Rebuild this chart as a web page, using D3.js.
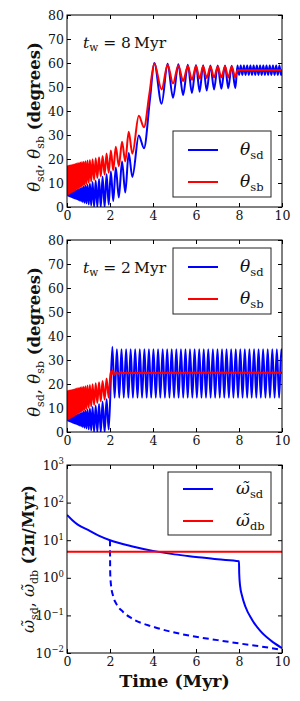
<!DOCTYPE html>
<html><head><meta charset="utf-8">
<script src="https://cdn.jsdelivr.net/npm/d3@7"></script>
<style>body{margin:0;background:#fff}svg{display:block}</style>
</head><body><svg id="c" width="300" height="701"></svg>
<script>
// ---------------- data ----------------
const X_TICKS = [0, 2, 4, 6, 8, 10];
const THETA_TICKS = [0, 10, 20, 30, 40, 50, 60, 70, 80];
const OMEGA_TICKS = [1e-2, 1e-1, 1, 10, 100, 1000];
const OMEGA_TICK_EXP = ["\u22122", "\u22121", "0", "1", "2", "3"];
const PANEL_NOTES = ["8", "2"];           // t_w in Myr
const THETA_LEGEND = ["sd", "sb"];
const OMEGA_LEGEND = ["sd", "db"];

// shared early evolution (t < 1.95 Myr), extrema of the fast oscillation
const earlySd = [[0,5.0],[0.015,5.1],[0.03,4.9],[0.044,5.2],[0.059,4.8],[0.074,5.3],[0.09,4.6],[0.106,5.5],[0.123,4.5],[0.14,5.6],[0.158,4.4],[0.176,5.8],[0.195,4.2],[0.214,6.0],[0.234,4.1],[0.254,6.1],[0.275,3.9],[0.297,6.3],[0.32,3.8],[0.343,6.5],[0.367,3.6],[0.392,6.8],[0.418,3.4],[0.445,7.0],[0.472,3.2],[0.5,7.3],[0.53,2.9],[0.56,7.5],[0.592,2.7],[0.625,7.8],[0.66,2.4],[0.697,8.1],[0.735,2.1],[0.775,8.5],[0.815,1.8],[0.86,8.9],[0.905,1.5],[0.955,9.3],[1.01,1.1],[1.065,9.8],[1.125,0.6],[1.19,10.4],[1.26,0.1],[1.335,11.0],[1.41,0],[1.49,11.7],[1.57,0],[1.655,12.6],[1.75,0],[1.84,13.6],[1.94,1.0]];
const earlySb = [[0,5.0],[0.015,17.0],[0.03,5.2],[0.044,17.1],[0.059,5.3],[0.074,17.2],[0.09,5.5],[0.106,17.3],[0.123,5.6],[0.14,17.3],[0.158,5.8],[0.176,17.4],[0.195,6.0],[0.214,17.5],[0.234,6.2],[0.254,17.6],[0.275,6.4],[0.297,17.7],[0.32,6.6],[0.343,17.8],[0.367,6.8],[0.392,18.0],[0.418,7.1],[0.445,18.1],[0.472,7.4],[0.5,18.2],[0.53,7.7],[0.56,18.4],[0.592,8.0],[0.625,18.5],[0.66,8.3],[0.697,18.7],[0.735,8.7],[0.775,18.9],[0.815,9.1],[0.86,19.1],[0.905,9.5],[0.955,19.4],[1.01,10.1],[1.065,19.6],[1.125,10.6],[1.19,19.9],[1.26,11.3],[1.335,20.3],[1.41,12.1],[1.49,20.7],[1.57,12.8],[1.655,21.3],[1.75,13.5],[1.84,22.3],[1.94,14.3]];

// t_w = 8 Myr continuation
const lateSd8 = [[2.04,14.8],[2.15,2.5],[2.27,16.5],[2.41,4.0],[2.56,19.0],[2.71,6.0],[2.87,22.5],[3.04,12.5],[3.34,29.8],[3.58,24.5],[3.86,45],[4.06,60],[4.40,43],[4.68,59.7],[4.93,45.5],[5.18,59.5],[5.40,46.7],[5.62,59.3],[5.81,47.5],[6.0,59.2],[6.17,48],[6.33,59.1],[6.5,48.5],[6.67,59],[6.84,49],[7.01,59],[7.18,49.3],[7.35,59],[7.5,49.5],[7.66,58.9],[7.83,49.5],[7.93,59],[8.005,55],[8.08,59],[8.155,55],[8.23,59],[8.305,55],[8.38,59],[8.455,55],[8.53,59],[8.605,55],[8.68,59],[8.755,55],[8.83,59],[8.905,55],[8.98,59],[9.055,55],[9.13,59],[9.205,55],[9.28,59],[9.355,55],[9.43,59],[9.505,55],[9.58,59],[9.655,55],[9.73,59],[9.805,55],[9.88,59],[9.955,55],[10,57]];
const lateSb8 = [[2.04,23.5],[2.15,15.3],[2.27,25.1],[2.41,17.0],[2.56,27.2],[2.71,19.0],[2.87,31.4],[3.04,22.2],[3.34,38.0],[3.58,33.2],[3.83,47],[4.06,59.8],[4.40,49.0],[4.68,59.3],[4.93,51.5],[5.18,59.0],[5.40,52.5],[5.62,58.8],[5.81,53.0],[6.0,58.7],[6.17,53.5],[6.33,58.6],[6.5,53.8],[6.67,58.5],[6.84,54],[7.01,58.5],[7.18,54],[7.35,58.5],[7.5,54],[7.66,58.5],[7.83,54],[7.93,57],[10,57]];

// t_w = 2 Myr continuation
const lateSd2 = [[2.11,35.5],[2.215,14.3],[2.32,34.5],[2.43,14.3],[2.535,34.5],[2.64,14.3],[2.75,34.5],[2.855,14.3],[2.96,34.5],[3.065,14.3],[3.17,34.5],[3.28,14.3],[3.385,34.5],[3.49,14.3],[3.6,34.5],[3.705,14.3],[3.81,34.5],[3.915,14.3],[4.02,34.5],[4.13,14.3],[4.235,34.5],[4.34,14.3],[4.45,34.5],[4.555,14.3],[4.66,34.5],[4.765,14.3],[4.87,34.5],[4.98,14.3],[5.085,34.5],[5.19,14.3],[5.3,34.5],[5.405,14.3],[5.51,34.5],[5.615,14.3],[5.72,34.5],[5.83,14.3],[5.935,34.5],[6.04,14.3],[6.15,34.5],[6.255,14.3],[6.36,34.5],[6.465,14.3],[6.57,34.5],[6.68,14.3],[6.785,34.5],[6.89,14.3],[7.0,34.5],[7.105,14.3],[7.21,34.5],[7.315,14.3],[7.42,34.5],[7.53,14.3],[7.635,34.5],[7.74,14.3],[7.85,34.5],[7.955,14.3],[8.06,34.5],[8.165,14.3],[8.27,34.5],[8.38,14.3],[8.485,34.5],[8.59,14.3],[8.7,34.5],[8.805,14.3],[8.91,34.5],[9.015,14.3],[9.12,34.5],[9.23,14.3],[9.335,34.5],[9.44,14.3],[9.55,34.5],[9.655,14.3],[9.76,34.5],[9.865,14.3],[9.97,34.5],[10,31]];
const lateSb2 = [[2.03,25.3],[2.08,24.0],[2.12,25.6],[2.2,23.9],[2.3,24.9],[2.4,24.3],[2.5,24.8],[2.6,24.6],[10,24.7]];

// precession frequencies (2pi/Myr)
const omegaSd = [[0,47],[0.25,34],[0.5,26],[1,18.5],[1.5,13],[2,10],[3,6.9],[4,5.2],[5,4.2],[6,3.6],[7,3.1],[8,2.75],[8.01,1.3],[8.05,0.62],[8.15,0.32],[8.3,0.17],[8.6,0.078],[9,0.038],[9.5,0.021],[10,0.0135]];
const omegaSdW2 = [[2,10],[2.01,1.3],[2.05,0.62],[2.15,0.32],[2.3,0.2],[2.6,0.125],[3,0.084],[4,0.05],[5,0.035],[6,0.027],[7,0.022],[8,0.018],[9,0.015],[10,0.012]];
const omegaDb = [[0,4.9],[10,4.9]];

// ---------------- drawing ----------------
const BLUE = "#0000ff", RED = "#ff0000";
const FONT = "'DejaVu Serif', 'Liberation Serif', serif";
const svg = d3.select("#c");
const L = 67, R = 282;
const x = d3.scaleLinear().domain([0, 10]).range([L, R]);

const panels = [
  {top: 15, bottom: 207},
  {top: 240, bottom: 432},
  {top: 465, bottom: 653}
];

function addFrame(g, y, top, bottom, yVals, id, log) {
  g.append("clipPath").attr("id", id).append("rect")
    .attr("x", L).attr("y", top).attr("width", R - L).attr("height", bottom - top);
  const ax = [];
  ax.push(g.append("g").attr("transform", `translate(0,${bottom})`)
    .call(d3.axisBottom(x).tickValues(X_TICKS).tickSize(-4).tickPadding(4).tickFormat(d3.format("d"))));
  ax.push(g.append("g").attr("transform", `translate(0,${top})`)
    .call(d3.axisTop(x).tickValues(X_TICKS).tickSize(-4).tickFormat("")));
  const left = d3.axisLeft(y).tickValues(yVals).tickSize(-4).tickPadding(3);
  if (!log) left.tickFormat(d3.format("d")); else left.tickFormat("");
  ax.push(g.append("g").attr("transform", `translate(${L},0)`).call(left));
  ax.push(g.append("g").attr("transform", `translate(${R},0)`)
    .call(d3.axisRight(y).tickValues(yVals).tickSize(-4).tickFormat("")));
  ax.forEach(a => {
    a.select(".domain").remove();
    a.selectAll("line").attr("stroke", "#000");
    a.selectAll("text").attr("font-family", FONT).attr("font-size", 12.5).attr("fill", "#111");
  });
  if (log) {
    const lg = ax[2];
    lg.selectAll(".tick").each(function(d) {
      const t = d3.select(this).append("text")
        .attr("x", -3).attr("dy", "0.32em").attr("text-anchor", "end")
        .attr("font-family", FONT).attr("font-size", 12.5).attr("fill", "#111");
      t.append("tspan").text("10");
      t.append("tspan").attr("font-size", 8.5).attr("dy", "-0.6em").text(OMEGA_TICK_EXP[OMEGA_TICKS.indexOf(d)]);
    });
  }
  return ax;
}

function drawFrameRect(g, top, bottom) {
  g.append("rect").attr("x", L).attr("y", top).attr("width", R - L).attr("height", bottom - top)
    .attr("fill", "none").attr("stroke", "#000").attr("stroke-width", 1);
}

function thetaYLabel(g, cx, cy) {
  const t = g.append("text").attr("transform", `translate(${cx},${cy}) rotate(-90)`)
    .attr("text-anchor", "middle").attr("font-family", FONT).attr("font-size", 16.5).attr("fill", "#111");
  t.append("tspan").attr("font-style", "italic").text("\u03b8");
  t.append("tspan").attr("font-size", 11).attr("dy", 3.5).text("sd");
  t.append("tspan").attr("dy", -3.5).text(", ");
  t.append("tspan").attr("font-style", "italic").text("\u03b8");
  t.append("tspan").attr("font-size", 11).attr("dy", 3.5).text("sb");
  t.append("tspan").attr("dy", -3.5).attr("font-weight", "bold").text(" (degrees)");
}

function legend(g, bx, by, bw, bh, lx1, lx2, ly, tx, sym, subs, colors) {
  g.append("rect").attr("x", bx).attr("y", by).attr("width", bw).attr("height", bh)
    .attr("fill", "#fff").attr("stroke", "#222").attr("stroke-width", 1);
  subs.forEach((s, i) => {
    g.append("line").attr("x1", lx1).attr("x2", lx2).attr("y1", ly[i]).attr("y2", ly[i])
      .attr("stroke", colors[i]).attr("stroke-width", 2);
    const t = g.append("text").attr("x", tx).attr("y", ly[i] + 5)
      .attr("font-family", FONT).attr("font-size", 17).attr("fill", "#111");
    t.append("tspan").attr("font-style", "italic").text(sym);
    t.append("tspan").attr("font-size", 11.5).attr("dy", 4).text(s);
  });
}

function note(g, xx, yy, val) {
  const t = g.append("text").attr("x", xx).attr("y", yy)
    .attr("font-family", FONT).attr("font-size", 15.5).attr("fill", "#111");
  t.append("tspan").attr("font-style", "italic").text("t");
  t.append("tspan").attr("font-size", 10.5).attr("dy", 3).text("w");
  t.append("tspan").attr("dy", -3).text(" = " + val + "\u2009Myr");
}

// ----- theta panels -----
const thetaSets = [
  {sd: earlySd.concat(lateSd8), sb: earlySb.concat(lateSb8)},
  {sd: earlySd.concat(lateSd2), sb: earlySb.concat(lateSb2)}
];
thetaSets.forEach((set, k) => {
  const p = panels[k];
  const y = d3.scaleLinear().domain([0, 80]).range([p.bottom, p.top]);
  const g = svg.append("g");
  addFrame(g, y, p.top, p.bottom, THETA_TICKS, "clip" + k, false);
  const line = d3.line().x(d => x(d[0])).y(d => y(d[1])).curve(d3.curveMonotoneX);
  const lg = g.append("g").attr("clip-path", `url(#clip${k})`);
  lg.append("path").attr("d", line(set.sd)).attr("fill", "none").attr("stroke", BLUE).attr("stroke-width", 2).attr("stroke-linejoin", "round");
  lg.append("path").attr("d", line(set.sb)).attr("fill", "none").attr("stroke", RED).attr("stroke-width", 2).attr("stroke-linejoin", "round");
  drawFrameRect(g, p.top, p.bottom);
  thetaYLabel(g, 40, (p.top + p.bottom) / 2 + 6);
  note(g, 83, p.top + 33, PANEL_NOTES[k]);
  const by = p.top + (k === 0 ? 116 : 8);
  legend(g, 173, by, 98, 66, 188, 218, [by + 19, by + 51], 240, "\u03b8", THETA_LEGEND, [BLUE, RED]);
});

// ----- omega panel -----
{
  const p = panels[2];
  const y = d3.scaleLog().domain([1e-2, 1e3]).range([p.bottom, p.top]);
  const g = svg.append("g");
  addFrame(g, y, p.top, p.bottom, OMEGA_TICKS, "clip2", true);
  const line = d3.line().x(d => x(d[0])).y(d => y(d[1])).curve(d3.curveMonotoneX);
  const lg = g.append("g").attr("clip-path", "url(#clip2)");
  lg.append("path").attr("d", line(omegaSd)).attr("fill", "none").attr("stroke", BLUE).attr("stroke-width", 2);
  lg.append("path").attr("d", line(omegaSdW2)).attr("fill", "none").attr("stroke", BLUE).attr("stroke-width", 2).attr("stroke-dasharray", "6,4");
  lg.append("path").attr("d", line(omegaDb)).attr("fill", "none").attr("stroke", RED).attr("stroke-width", 2);
  drawFrameRect(g, p.top, p.bottom);
  // y label
  const t = g.append("text").attr("transform", `translate(34,${(p.top + p.bottom) / 2}) rotate(-90)`)
    .attr("text-anchor", "middle").attr("font-family", FONT).attr("font-size", 16).attr("fill", "#111");
  t.append("tspan").attr("font-style", "italic").text("\u03c9\u0303");
  t.append("tspan").attr("font-size", 11).attr("dy", 3.5).text("sd");
  t.append("tspan").attr("dy", -3.5).text(", ");
  t.append("tspan").attr("font-style", "italic").text("\u03c9\u0303");
  t.append("tspan").attr("font-size", 11).attr("dy", 3.5).text("db");
  t.append("tspan").attr("dy", -3.5).attr("font-weight", "bold").text(" (2\u03c0/Myr)");
  legend(g, 168, 472, 103, 63, 183, 213, [489, 521], 236, "\u03c9\u0303", OMEGA_LEGEND, [BLUE, RED]);
  g.append("text").attr("x", (L + R) / 2).attr("y", 687).attr("text-anchor", "middle")
    .attr("font-family", FONT).attr("font-size", 17.5).attr("font-weight", "bold").attr("fill", "#111")
    .text("Time (Myr)");
}
</script>
</body></html>
